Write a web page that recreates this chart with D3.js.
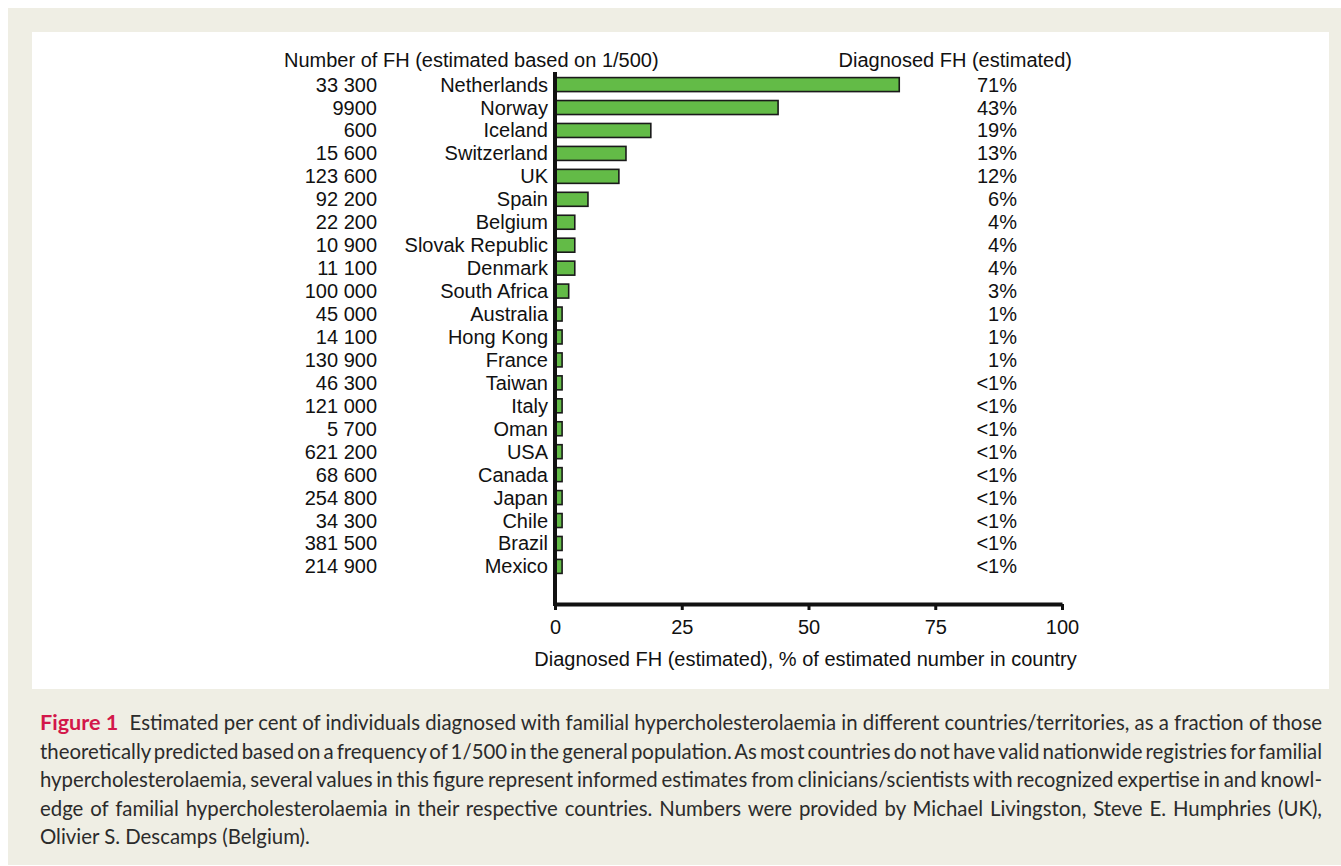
<!DOCTYPE html>
<html>
<head>
<meta charset="utf-8">
<script src="https://cdn.jsdelivr.net/npm/d3@7"></script>
<style>
  body { margin: 0; background: #fff; }
  svg { display: block; }
</style>
</head>
<body>
<svg id="svg" width="1341" height="866"></svg>
<script>
// data
var countries = ["Netherlands","Norway","Iceland","Switzerland","UK","Spain","Belgium","Slovak Republic",
  "Denmark","South Africa","Australia","Hong Kong","France","Taiwan","Italy","Oman","USA","Canada",
  "Japan","Chile","Brazil","Mexico"];
var fhNumbers = ["33 300","9900","600","15 600","123 600","92 200","22 200","10 900","11 100","100 000",
  "45 000","14 100","130 900","46 300","121 000","5 700","621 200","68 600","254 800","34 300","381 500","214 900"];
var diagnosedLabels = ["71%","43%","19%","13%","12%","6%","4%","4%","4%","3%","1%","1%","1%",
  "<1%","<1%","<1%","<1%","<1%","<1%","<1%","<1%","<1%"];
// bar lengths as drawn (the drawn bars do not follow the labels exactly)
var barValues = [67.9,44.0,18.9,14.0,12.6,6.5,3.9,3.9,3.9,2.7,1.4,1.4,1.4,1.4,1.4,1.4,1.4,1.4,1.4,1.4,1.4,1.4];
var xTicks = [0,25,50,75,100];
var captionLines = [
  "Estimated per cent of individuals diagnosed with familial hypercholesterolaemia in different countries/territories, as a fraction of those",
  "theoretically predicted based on a frequency of 1/500 in the general population. As most countries do not have valid nationwide registries for familial",
  "hypercholesterolaemia, several values in this figure represent informed estimates from clinicians/scientists with recognized expertise in and knowl-",
  "edge of familial hypercholesterolaemia in their respective countries. Numbers were provided by Michael Livingston, Steve E. Humphries (UK),",
  "Olivier S. Descamps (Belgium)."
];

var svg = d3.select("#svg");
var chartFont = "'Liberation Sans', Arial, sans-serif";
var capFont = "Lato, 'Open Sans', sans-serif";

// beige frame + white panel
svg.append("rect").attr("x",8).attr("y",8).attr("width",1333).attr("height",857).attr("fill","#efeee4");
svg.append("rect").attr("x",32).attr("y",32).attr("width",1297).attr("height",657).attr("fill","#fff");

var x = d3.scaleLinear().domain([0,100]).range([555,1062]);
var y = d3.scaleBand().domain(countries).range([73,578]).paddingInner(0.39).paddingOuter(0.2);

var g = svg.append("g").style("font-family",chartFont).style("font-size","20px").attr("fill","#111");

// headers
g.append("text").attr("x",284).attr("y",67).text("Number of FH (estimated based on 1/500)");
g.append("text").attr("x",1072).attr("y",67).attr("text-anchor","end").text("Diagnosed FH (estimated)");

// bars
g.selectAll(".bar").data(countries).enter().append("rect")
  .attr("class","bar")
  .attr("x",x(0))
  .attr("y",function(d){ return y(d); })
  .attr("width",function(d,i){ return x(barValues[i]) - x(0); })
  .attr("height",y.bandwidth())
  .attr("fill","#63bb47")
  .attr("stroke","#1a1a1a")
  .attr("stroke-width",1.6);

var mid = function(d){ return y(d) + y.bandwidth()/2 + 7; };

g.selectAll(".cname").data(countries).enter().append("text")
  .attr("x",548).attr("y",mid).attr("text-anchor","end").text(function(d){ return d; });
g.selectAll(".fhn").data(countries).enter().append("text")
  .attr("x",377).attr("y",mid).attr("text-anchor","end").text(function(d,i){ return fhNumbers[i]; });
g.selectAll(".pct").data(countries).enter().append("text")
  .attr("x",1017).attr("y",mid).attr("text-anchor","end").text(function(d,i){ return diagnosedLabels[i]; });

// axes
var axisY = 604;
var xAxis = d3.axisBottom(x).tickValues(xTicks).tickSize(6).tickPadding(10).tickSizeOuter(0);
var ax = svg.append("g").attr("transform","translate(0,"+axisY+")").call(xAxis);
ax.select(".domain").attr("stroke","#111").attr("stroke-width",4);
ax.selectAll(".tick line").attr("stroke","#111").attr("stroke-width",3);
ax.selectAll(".tick text").style("font-family",chartFont).style("font-size","20px").attr("fill","#111");
svg.append("line").attr("x1",x(0)).attr("x2",x(0)).attr("y1",72).attr("y2",axisY+2)
  .attr("stroke","#111").attr("stroke-width",4);

g.append("text").attr("x",(534+1077)/2).attr("y",666).attr("text-anchor","middle")
  .text("Diagnosed FH (estimated), % of estimated number in country");

// caption, justified
var cap = svg.append("g").style("font-family",capFont).attr("fill","#2b2b2b");
var left = 40, right = 1322, base0 = 730, lh = 28.5;

// fit font size from last (unjustified) line
var probe = cap.append("text").style("font-size","20px").text(captionLines[4]);
var fs = 20 * 270 / probe.node().getComputedTextLength();
probe.remove();
cap.style("font-size",fs+"px");

captionLines.forEach(function(line,i){
  var t = cap.append("text").attr("x",left).attr("y",base0 + i*lh);
  var gap = 0;
  if (i === 0) {
    gap = fs*0.55;
    t.append("tspan").attr("fill","#d3174a").style("font-weight","bold").style("font-size",(fs*1.06)+"px").text("Figure 1");
    t.append("tspan").attr("dx",gap).text(line);
  } else {
    t.text(line);
  }
  if (i < 4) {
    var w = t.node().getBBox().width;
    var gaps = (i === 0 ? line.split(" ").length : line.split(" ").length - 1);
    t.style("word-spacing",((right-left) - w)/gaps + "px");
  }
});
</script>
</body>
</html>
